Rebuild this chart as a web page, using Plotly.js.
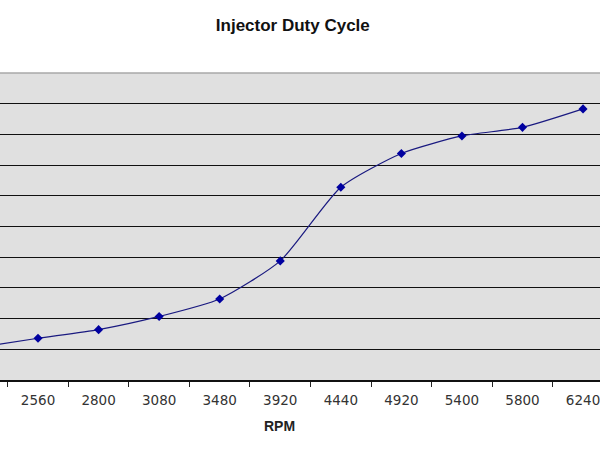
<!DOCTYPE html>
<html>
<head>
<meta charset="utf-8">
<script src="https://cdn.plot.ly/plotly-3.0.1.min.js"></script>
<style>
html,body{margin:0;padding:0;background:#fff;}
#chart{width:600px;height:450px;}
</style>
</head>
<body>
<div id="chart"></div>
<script>
const rpm = ["2240", "2560", "2800", "3080", "3480", "3920", "4440", "4920", "5400", "5800", "6240"];
const dutyCycle = [10.6, 13.6, 16.4, 20.7, 26.4, 38.8, 62.8, 73.8, 79.5, 82.3, 88.3];
const chartTitle = "Injector Duty Cycle";
const xTitle = "RPM";

const trace = {
  x: rpm,
  y: dutyCycle,
  type: "scatter",
  mode: "lines+markers",
  line: {color: "#1a1a80", width: 1.2, shape: "spline", smoothing: 0.6},
  marker: {symbol: "diamond", size: 7, color: "#0000a0"},
  hoverinfo: "x+y"
};

const layout = {
  width: 600,
  height: 450,
  margin: {l: 0, r: 0, t: 73, b: 70},
  paper_bgcolor: "#ffffff",
  plot_bgcolor: "#e0e0e0",
  showlegend: false,
  title: {
    text: "<b>" + chartTitle + "</b>",
    font: {family: "Liberation Sans, Arial, sans-serif", size: 17, color: "#111"},
    x: 0.488, xref: "container", xanchor: "center",
    y: 0.944, yref: "container", yanchor: "middle"
  },
  xaxis: {
    type: "category",
    range: [0.372, 10.28],
    tickson: "boundaries",
    ticks: "outside",
    ticklen: 5,
    tickcolor: "#222",
    tickwidth: 1,
    showgrid: false,
    showline: true,
    linecolor: "#111",
    linewidth: 1.5,
    ticklabelstandoff: 7,
    tickfont: {family: "DejaVu Sans, Verdana, sans-serif", size: 13.5, color: "#333"},
    zeroline: false,
    fixedrange: true
  },
  yaxis: {
    range: [0, 100],
    dtick: 10,
    tick0: 0,
    showgrid: true,
    gridcolor: "#111",
    gridwidth: 1.2,
    showticklabels: false,
    ticks: "",
    zeroline: false,
    showline: false,
    fixedrange: true
  },
  annotations: [
    {text: "<b>" + xTitle + "</b>", xref: "paper", yref: "paper", x: 0.465, y: -0.15,
     xanchor: "center", yanchor: "middle", showarrow: false,
     font: {family: "Liberation Sans, Arial, sans-serif", size: 14, color: "#222"}}
  ],
  shapes: [
    {type: "line", xref: "paper", yref: "paper", x0: 0, x1: 1, y0: 1, y1: 1,
     line: {color: "#a8a8a8", width: 1.5}, layer: "above"}
  ]
};

Plotly.newPlot("chart", [trace], layout, {displayModeBar: false, staticPlot: true});
</script>
</body>
</html>
